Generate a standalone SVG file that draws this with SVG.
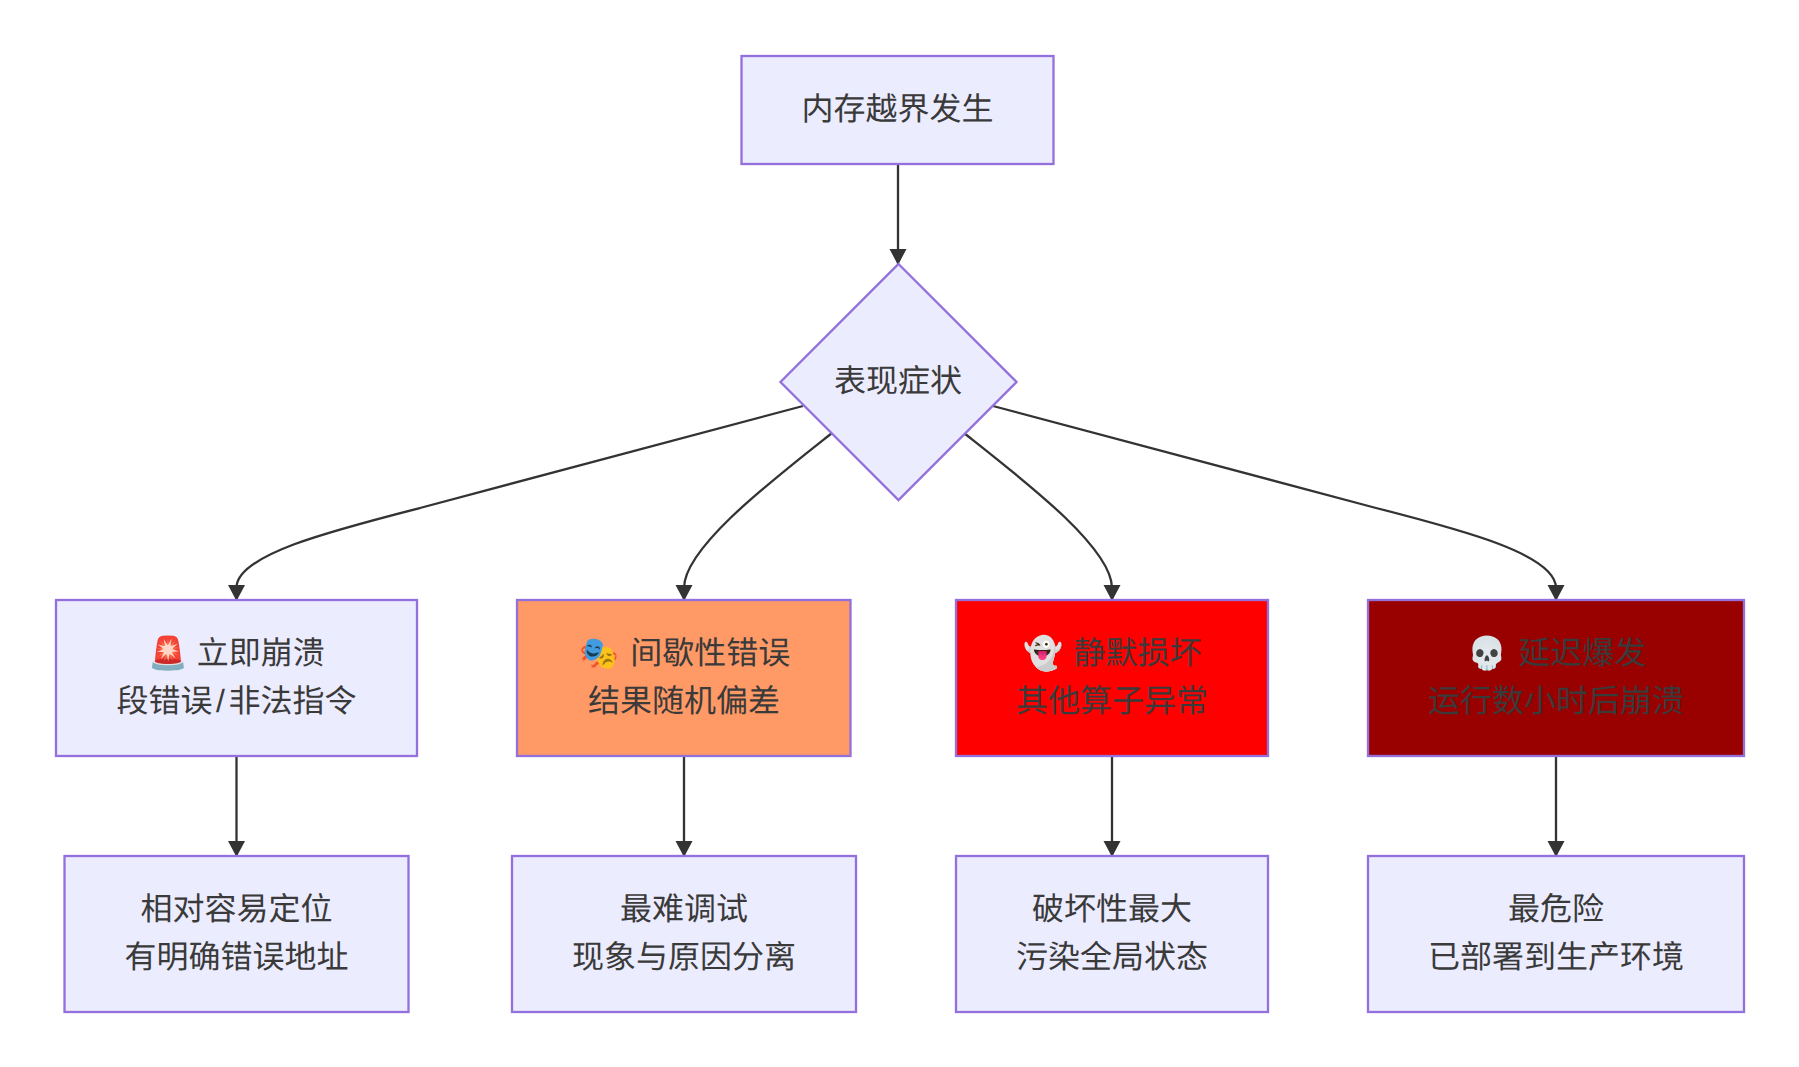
<svg xmlns="http://www.w3.org/2000/svg" width="1799" height="1067" viewBox="0 0 1799 1067">
<style>
text{font-family:"Liberation Sans","Noto Sans CJK SC",sans-serif;font-size:32px;fill:#3a3a3a;text-anchor:middle;text-rendering:geometricPrecision}
.n{fill:#ECECFF;stroke:#9370DB;stroke-width:2.3}
.e{fill:none;stroke:#333;stroke-width:2.3}
</style>
<defs><marker id="a" markerUnits="userSpaceOnUse" markerWidth="16" markerHeight="18" refX="15" refY="9" orient="auto"><path d="M0,0.500L16,9L0,17.500Z" fill="#333"/></marker></defs>
<rect width="1799" height="1067" fill="#fff"/>
<g id="connectors">
<path class="e" marker-end="url(#a)" d="M898,164V264"/>
<path class="e" marker-end="url(#a)" d="M803,406L420,508C330,531 236,555 236.500,588V600"/>
<path class="e" marker-end="url(#a)" d="M832,433C770,482 684,548 684,588V600"/>
<path class="e" marker-end="url(#a)" d="M964,433C1026,482 1112,548 1112,588V600"/>
<path class="e" marker-end="url(#a)" d="M993,406L1376,508C1466,531 1556,555 1556,588V600"/>
<path class="e" marker-end="url(#a)" d="M236.500,756V856"/>
<path class="e" marker-end="url(#a)" d="M684,756V856"/>
<path class="e" marker-end="url(#a)" d="M1112,756V856"/>
<path class="e" marker-end="url(#a)" d="M1556,756V856"/>
</g>
<g id="n1"><rect class="n" x="741.500" y="56" width="312" height="108"/><text x="897.500" y="120">内存越界发生</text></g>
<g id="n2"><path class="n" d="M898.500,264L1016.500,382L898.500,500L780.500,382Z"/><text x="898" y="392">表现症状</text></g>
<g id="n3"><rect class="n" x="56" y="600" width="361" height="156"/><text x="236.500" y="664">🚨 立即崩溃</text><text x="236.500" y="712">段错误<tspan dx="3.500">/</tspan><tspan dx="3.500">非法指令</tspan></text></g>
<g id="n4"><rect class="n" x="517" y="600" width="333.500" height="156" style="fill:#ff9966"/><text x="685" y="664">🎭 <tspan dx="2">间歇性错误</tspan></text><text x="684" y="712">结果随机偏差</text></g>
<g id="n5"><rect class="n" x="956" y="600" width="312" height="156" style="fill:#ff0000"/><text x="1112.600" y="664">👻 <tspan dx="1.200">静默损坏</tspan></text><text x="1112" y="712">其他算子异常</text></g>
<g id="n6"><rect class="n" x="1368" y="600" width="376" height="156" style="fill:#990000"/><text x="1557" y="664">💀 <tspan dx="2">延迟爆发</tspan></text><text x="1556" y="712">运行数小时后崩溃</text></g>
<g id="n7"><rect class="n" x="64.500" y="856" width="344" height="156"/><text x="236.500" y="920">相对容易定位</text><text x="236.500" y="968">有明确错误地址</text></g>
<g id="n8"><rect class="n" x="512" y="856" width="344" height="156"/><text x="684" y="920">最难调试</text><text x="684" y="968">现象与原因分离</text></g>
<g id="n9"><rect class="n" x="956" y="856" width="312" height="156"/><text x="1112" y="920">破坏性最大</text><text x="1112" y="968">污染全局状态</text></g>
<g id="n10"><rect class="n" x="1368" y="856" width="376" height="156"/><text x="1556" y="920">最危险</text><text x="1556" y="968">已部署到生产环境</text></g>
</svg>
